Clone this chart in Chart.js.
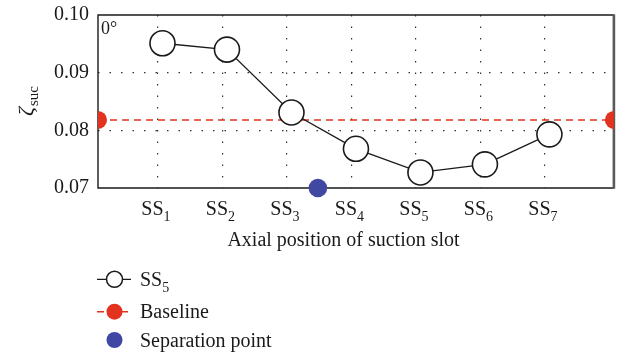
<!DOCTYPE html>
<html>
<head>
<meta charset="utf-8">
<script src="https://cdn.jsdelivr.net/npm/chart.js@4.4.0/dist/chart.umd.min.js"></script>
<style>
html, body { margin: 0; padding: 0; background: #fff; }
#wrap { width: 628px; height: 355px; }
</style>
</head>
<body>
<div id="wrap"><canvas id="grafico" width="628" height="355"></canvas></div>
<script>
// valores
const categorias = ['SS1', 'SS2', 'SS3', 'SS4', 'SS5', 'SS6', 'SS7'];
const posiciones = [1, 2, 3, 4, 5, 6, 7];
const zetaSS5 = [0.0951, 0.0940, 0.0831, 0.0768, 0.0727, 0.0741, 0.0793];
const baselineX = [0, 8];
const baselineY = [0.0818, 0.0818];
const separacionX = [3.41];
const separacionY = [0.07];
const yTicks = [0.07, 0.08, 0.09, 0.10];

const SERIF = '"Liberation Serif", "DejaVu Serif", serif';
const ROJO = '#e3321f';
const AZUL = '#4148a4';
const NEGRO = '#1a1a1a';

// texto con los digitos finales como subindice (SS1 -> SS + 1)
function textoSub(ctx, txt, x, y, size, align) {
    const m = txt.match(/^(\D+)(\d*)$/);
    const base = m ? m[1] : txt;
    const sub = m ? m[2] : '';
    ctx.font = size + 'px ' + SERIF;
    const wb = ctx.measureText(base).width;
    ctx.font = Math.round(size * 0.7) + 'px ' + SERIF;
    const ws = ctx.measureText(sub).width;
    let x0 = x;
    if (align === 'center') x0 = x - (wb + ws) / 2;
    ctx.textAlign = 'left';
    ctx.textBaseline = 'alphabetic';
    ctx.font = size + 'px ' + SERIF;
    ctx.fillText(base, x0, y);
    ctx.font = Math.round(size * 0.7) + 'px ' + SERIF;
    ctx.fillText(sub, x0 + wb, y + size * 0.3);
}

const marco = {
    id: 'marco',
    beforeDatasetsDraw(chart) {
        const {ctx, chartArea: a} = chart;
        ctx.save();
        ctx.strokeStyle = NEGRO;
        ctx.lineWidth = 1.4;
        ctx.beginPath();
        ctx.moveTo(a.right, a.top);
        ctx.lineTo(a.left, a.top);
        ctx.lineTo(a.left, a.bottom);
        ctx.lineTo(a.right, a.bottom);
        ctx.stroke();
        ctx.strokeStyle = '#5a5a5a';
        ctx.lineWidth = 2.6;
        ctx.beginPath();
        ctx.moveTo(a.right, a.top - 0.7);
        ctx.lineTo(a.right, a.bottom + 0.7);
        ctx.stroke();
        ctx.restore();
    },
    // puntos de la linea base: medios circulos cortados por el borde
    afterDatasetDraw(chart, args) {
        if (args.index !== 1) return;
        const {ctx, chartArea: a} = chart;
        ctx.save();
        ctx.fillStyle = ROJO;
        args.meta.data.forEach((p) => {
            ctx.beginPath();
            if (p.x <= a.left + 1) ctx.arc(p.x, p.y, 9, -Math.PI / 2, Math.PI / 2);
            else ctx.arc(p.x, p.y, 9, Math.PI / 2, Math.PI * 1.5);
            ctx.closePath();
            ctx.fill();
        });
        ctx.restore();
    },
    afterDraw(chart) {
        const {ctx, chartArea: a} = chart;
        const xs = chart.scales.x;
        ctx.save();
        ctx.fillStyle = NEGRO;

        // etiqueta del angulo
        ctx.font = '18px ' + SERIF;
        ctx.textAlign = 'left';
        ctx.textBaseline = 'alphabetic';
        ctx.fillText('0°', a.left + 3, 34);

        // etiquetas del eje x con subindice
        categorias.forEach((c, i) => {
            const px = xs.getPixelForValue(posiciones[i] - 0.07);
            textoSub(ctx, c, px - 2, 215, 20, 'center');
        });

        // titulo eje x
        ctx.font = '20px ' + SERIF;
        ctx.textAlign = 'center';
        ctx.fillText('Axial position of suction slot', 343.5, 246);

        // titulo eje y: zeta con subindice suc
        ctx.save();
        ctx.translate(33, 116);
        ctx.rotate(-Math.PI / 2);
        ctx.textAlign = 'left';
        ctx.font = 'italic 22px ' + SERIF;
        ctx.fillText('ζ', 0, 0);
        const wz = ctx.measureText('ζ').width;
        ctx.font = '15px ' + SERIF;
        ctx.fillText('suc', wz + 1, 5);
        ctx.restore();

        // leyenda
        const filas = [279.3, 311.7, 340];
        const colores = [['#ffffff', NEGRO], [ROJO, null], [AZUL, null]];
        chart.data.datasets.forEach((ds, i) => {
            const y = filas[i];
            if (ds.showLine !== false) {
                ctx.strokeStyle = ds.borderColor;
                ctx.lineWidth = ds.borderWidth;
                ctx.setLineDash(ds.borderDash || []);
                ctx.beginPath();
                ctx.moveTo(97, y);
                ctx.lineTo(131, y);
                ctx.stroke();
                ctx.setLineDash([]);
            }
            ctx.beginPath();
            ctx.arc(114.5, y, 8, 0, Math.PI * 2);
            ctx.fillStyle = colores[i][0];
            ctx.fill();
            if (colores[i][1]) {
                ctx.strokeStyle = colores[i][1];
                ctx.lineWidth = 1.5;
                ctx.stroke();
            }
            ctx.fillStyle = NEGRO;
            textoSub(ctx, ds.label, 140, y + 6.5, 20, 'left');
        });
        ctx.restore();
    }
};

const data = {
    datasets: [{
        label: 'SS5',
        data: posiciones.map((x, i) => ({x: x, y: zetaSS5[i]})),
        borderColor: NEGRO,
        borderWidth: 1.3,
        pointRadius: 12.5,
        pointBackgroundColor: '#ffffff',
        pointBorderColor: NEGRO,
        pointBorderWidth: 1.6,
        tension: 0
    }, {
        label: 'Baseline',
        data: baselineX.map((x, i) => ({x: x, y: baselineY[i]})),
        borderColor: ROJO,
        borderWidth: 1.5,
        borderDash: [7, 5],
        pointRadius: 0,
        pointHitRadius: 9
    }, {
        label: 'Separation point',
        data: separacionX.map((x, i) => ({x: x, y: separacionY[i]})),
        showLine: false,
        borderColor: AZUL,
        pointRadius: 9.3,
        pointBackgroundColor: AZUL,
        pointBorderColor: AZUL,
        pointBorderWidth: 0,
        clip: false
    }]
};

const config = {
    type: 'line',
    data: data,
    options: {
        responsive: false,
        animation: false,
        devicePixelRatio: 1,
        layout: { padding: { top: 15, right: 12, left: 0, bottom: 0 } },
        plugins: { legend: { display: false }, tooltip: { enabled: false } },
        scales: {
            x: {
                type: 'linear',
                min: 0,
                max: 8,
                afterBuildTicks: (axis) => {
                    axis.ticks = posiciones.map(p => ({value: p - 0.07}));
                },
                afterFit: (scale) => { scale.height = 167; },
                ticks: { display: false },
                grid: { color: '#333', lineWidth: 1.2, drawTicks: false },
                border: { display: false, dash: [1.5, 10] }
            },
            y: {
                min: 0.07,
                max: 0.10,
                afterBuildTicks: (axis) => {
                    axis.ticks = yTicks.map(v => ({value: v}));
                },
                afterFit: (scale) => { scale.width = 98; },
                ticks: {
                    padding: 9,
                    color: NEGRO,
                    font: { family: SERIF, size: 20, lineHeight: 0.6 },
                    callback: (v) => Number(v).toFixed(2)
                },
                grid: {
                    drawTicks: false,
                    lineWidth: 1.2,
                    color: (c) => (c.tick && c.tick.value > 0.071 && c.tick.value < 0.099) ? '#333' : 'rgba(0,0,0,0)'
                },
                border: { display: false, dash: [1.5, 10] }
            }
        }
    },
    plugins: [marco]
};

const grafico = new Chart(document.getElementById('grafico'), config);
</script>
</body>
</html>
